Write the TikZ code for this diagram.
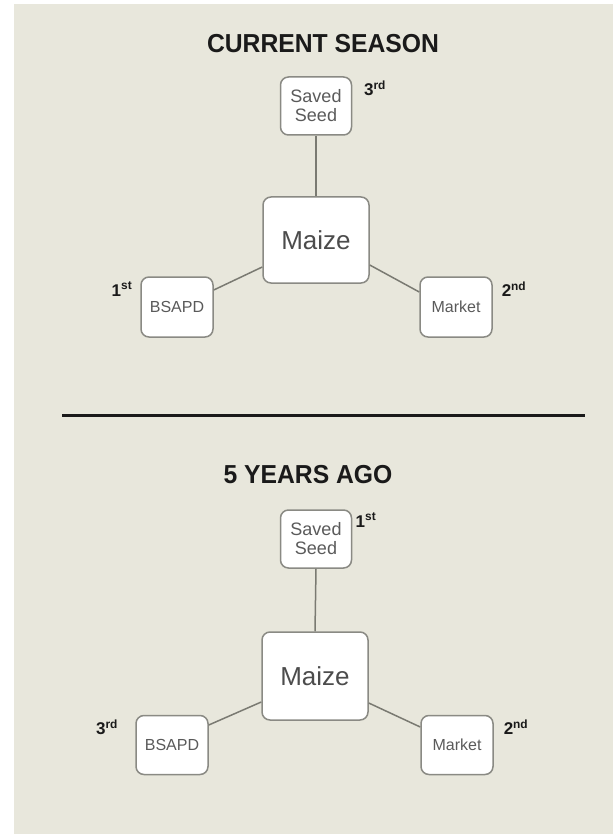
\documentclass[tikz,border=0pt]{standalone}
\usepackage{fontspec}
\setmainfont{Liberation Sans}
\begin{document}
\begin{tikzpicture}[x=1pt,y=-1pt,
  box/.style={draw=boxline, fill=white, line width=1.5pt, rounded corners=8pt,
    inner sep=0pt, align=center, text=boxtext},
  conn/.style={draw=connline, line width=1.5pt},
  rank/.style={font=\bfseries\fontsize{17}{19}\selectfont, text=titletext, inner sep=0pt},
  title/.style={font=\bfseries\fontsize{26}{30}\selectfont, text=titletext, xscale=0.95, transform shape, inner sep=0pt}]
\definecolor{bg}{HTML}{E8E7DC}
\definecolor{boxline}{HTML}{8A8A84}
\definecolor{boxtext}{HTML}{5A5A5A}
\definecolor{connline}{HTML}{7A7A72}
\definecolor{titletext}{HTML}{1A1A1A}
\useasboundingbox (0,0) rectangle (613,834);
\fill[white] (0,0) rectangle (613,834);
\fill[bg] (14,4) rectangle (613,834);

% ---------- current season ----------
\node[title] (t1) at (323,44) {CURRENT SEASON};
\node[box, minimum width=71pt, minimum height=58pt, font=\fontsize{18}{19}\selectfont] (s1) at (316,106) {Saved\\Seed};
\node[box, minimum width=106pt, minimum height=86pt, font=\fontsize{26}{28}\selectfont, text=boxtext!85!black] (m1) at (316,240) {Maize};
\node[box, minimum width=72pt, minimum height=60pt, font=\fontsize{16}{18}\selectfont] (b1) at (177,307) {BSAPD};
\node[box, minimum width=72pt, minimum height=60pt, font=\fontsize{16}{18}\selectfont] (k1) at (456,307) {Market};
\node[rank] (r1s) at (375,88) {3\textsuperscript{rd}};
\node[rank] (r1b) at (122,289) {1\textsuperscript{st}};
\node[rank] (r1k) at (514,289) {2\textsuperscript{nd}};
\draw[conn] (s1.south) -- (m1.north);
\draw[conn] (m1.west |- 0,267) -- (b1.east |- 0,290);
\draw[conn] (m1.east |- 0,265) -- (k1.west |- 0,292);

% ---------- divider ----------
\coordinate (dl) at (62,415);
\coordinate (dr) at (585,415);
\draw[line width=3pt, titletext] (dl) -- (dr);

% ---------- 5 years ago ----------
\node[title] (t2) at (308,475) {5 YEARS AGO};
\node[box, minimum width=71pt, minimum height=58pt, font=\fontsize{18}{19}\selectfont] (s2) at (316,539) {Saved\\Seed};
\node[box, minimum width=106pt, minimum height=88pt, font=\fontsize{26}{28}\selectfont, text=boxtext!85!black] (m2) at (315,676) {Maize};
\node[box, minimum width=72pt, minimum height=59pt, font=\fontsize{16}{18}\selectfont] (b2) at (172,745) {BSAPD};
\node[box, minimum width=72pt, minimum height=59pt, font=\fontsize{16}{18}\selectfont] (k2) at (457,745) {Market};
\node[rank] (r2s) at (366,520) {1\textsuperscript{st}};
\node[rank] (r2b) at (107,727) {3\textsuperscript{rd}};
\node[rank] (r2k) at (516,727) {2\textsuperscript{nd}};
\draw[conn] (s2.south) -- (m2.north);
\draw[conn] (m2.west |- 0,702) -- (b2.east |- 0,725);
\draw[conn] (m2.east |- 0,703) -- (k2.west |- 0,727);
\end{tikzpicture}
\end{document}
